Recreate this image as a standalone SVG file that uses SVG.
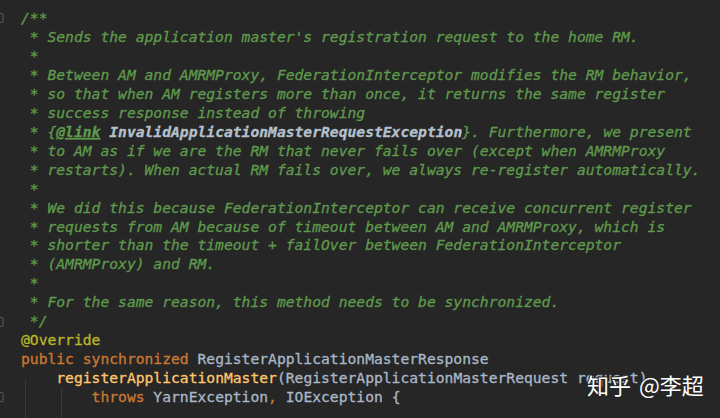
<svg xmlns="http://www.w3.org/2000/svg" width="720" height="418" viewBox="0 0 720 418">
<style>
text{font-family:"DejaVu Sans Mono","Liberation Mono",monospace;font-size:14.67px;white-space:pre}
.c{fill:#5f9a4c;stroke:#5f9a4c;stroke-width:0.3;font-style:italic}
.ref{fill:#b4c0cc;stroke:#b4c0cc;font-style:italic;font-weight:bold}
.lnk{text-decoration:underline;font-weight:bold}
.an{fill:#bbb529;stroke:#bbb529;stroke-width:0.3}
.kw{fill:#cc7832;stroke:#cc7832;stroke-width:0.3}
.tx{fill:#a9b7c6;stroke:#a9b7c6;stroke-width:0.3}
.fn{fill:#ffc66d;stroke:#ffc66d;stroke-width:0.3}
.wm{font-family:"Noto Sans CJK SC","Noto Sans",sans-serif;font-size:22px;fill:#ffffff;stroke:#262626;stroke-width:2;paint-order:stroke}
.fold{fill:none;stroke:#5a5a5a;stroke-width:1}
.guide{stroke:#3a3a3a;stroke-width:1}
</style>
<rect width="720" height="418" fill="#262626"/>
<g id="gutter">
<rect class="fold" x="-2" y="13.5" width="5" height="9" rx="1"/>
<rect class="fold" x="-2" y="317.5" width="5" height="9" rx="1"/>
<rect class="fold" x="-2" y="392.5" width="5" height="9" rx="1"/>
<line class="guide" x1="25.5" y1="379" x2="25.5" y2="418"/>
<line class="guide" x1="61.5" y1="389" x2="61.5" y2="418"/>
</g>
<g id="code" xml:space="preserve">
<text class="c" x="21" y="23">/**</text>
<text class="c" x="21" y="42"> * Sends the application master's registration request to the home RM.</text>
<text class="c" x="21" y="61"> *</text>
<text class="c" x="21" y="80"> * Between AM and AMRMProxy, FederationInterceptor modifies the RM behavior,</text>
<text class="c" x="21" y="99"> * so that when AM registers more than once, it returns the same register</text>
<text class="c" x="21" y="118"> * success response instead of throwing</text>
<text class="c" x="21" y="137"> * {<tspan class="lnk">@link</tspan> <tspan class="ref">InvalidApplicationMasterRequestException</tspan>}. Furthermore, we present</text>
<text class="c" x="21" y="156"> * to AM as if we are the RM that never fails over (except when AMRMProxy</text>
<text class="c" x="21" y="175"> * restarts). When actual RM fails over, we always re-register automatically.</text>
<text class="c" x="21" y="193.5"> *</text>
<text class="c" x="21" y="212.5"> * We did this because FederationInterceptor can receive concurrent register</text>
<text class="c" x="21" y="231.5"> * requests from AM because of timeout between AM and AMRMProxy, which is</text>
<text class="c" x="21" y="250.4"> * shorter than the timeout + failOver between FederationInterceptor</text>
<text class="c" x="21" y="269.3"> * (AMRMProxy) and RM.</text>
<text class="c" x="21" y="288.3"> *</text>
<text class="c" x="21" y="307.2"> * For the same reason, this method needs to be synchronized.</text>
<text class="c" x="21" y="326.2"> */</text>
<text class="an" x="21" y="345.1">@Override</text>
<text class="tx" x="21" y="364.1"><tspan class="kw">public synchronized</tspan> RegisterApplicationMasterResponse</text>
<text class="tx" x="21" y="383">    <tspan class="fn">registerApplicationMaster</tspan>(RegisterApplicationMasterRequest request)</text>
<text class="tx" x="21" y="402">        <tspan class="kw">throws</tspan> YarnException<tspan class="kw">,</tspan> IOException {</text>
</g>
<g id="watermark">
<text class="wm" x="587" y="394">知乎</text>
<text class="wm" x="639" y="394">@李超</text>
</g>
</svg>
